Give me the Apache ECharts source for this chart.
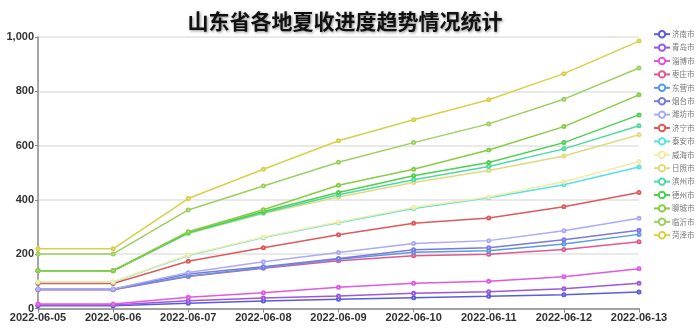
<!DOCTYPE html>
<html><head><meta charset="utf-8">
<script src="https://cdn.jsdelivr.net/npm/echarts@6/dist/echarts.min.js"></script>
<style>html,body{margin:0;padding:0;background:#fff}#c{width:700px;height:331px}</style>
</head><body><div id="c"></div>
<script>
const dates = ['2022-06-05','2022-06-06','2022-06-07','2022-06-08','2022-06-09','2022-06-10','2022-06-11','2022-06-12','2022-06-13'];
const cities = ['济南市','青岛市','淄博市','枣庄市','东营市','烟台市','潍坊市','济宁市','泰安市','威海市','日照市','滨州市','德州市','聊城市','临沂市','菏泽市'];
const jinan    = [10,10,19,28,34,40,45,51,61];
const qingdao  = [13,13,29,39,46,56,62,73,93];
const zibo     = [17,17,41,58,78,93,100,117,146];
const zaozhuang= [69,69,118,148,176,194,200,217,246];
const dongying = [70,70,120,150,181,207,213,238,273];
const yantai   = [71,71,127,154,184,216,224,253,288];
const weifang  = [72,72,133,172,206,239,250,286,332];
const jining   = [92,92,174,224,272,314,333,375,427];
const taian    = [97,97,195,261,316,368,408,456,521];
const weihai   = [98,98,197,263,319,372,411,467,541];
const rizhao   = [139,139,276,350,411,464,508,562,640];
const binzhou  = [139,139,278,353,419,474,523,588,673];
const dezhou   = [139,139,280,357,427,489,538,611,713];
const liaocheng= [139,139,283,364,454,513,584,670,787];
const linyi    = [201,201,363,451,539,611,680,771,886];
const heze     = [220,220,405,513,618,695,769,865,985];
const values = [jinan,qingdao,zibo,zaozhuang,dongying,yantai,weifang,jining,taian,weihai,rizhao,binzhou,dezhou,liaocheng,linyi,heze];
const colors = ['#5b5be0','#9b59e0','#e059e0','#e0598f','#599be0','#7a7ae0','#ababf5','#e05959','#59e0e0','#f0eca8','#e0db80','#4fd9a6','#4fd04f','#88cc44','#9bd060','#d9d04a'];

const chart = echarts.init(document.getElementById('c'));
chart.setOption({
  animation:false,
  color: colors,
  title:{
    text:'山东省各地夏收进度趋势情况统计',
    left:340, top:6, textAlign:'center',
    textStyle:{fontSize:21,fontWeight:'bold',color:'#111',fontFamily:'Noto Sans CJK SC',
      textShadowColor:'rgba(0,0,0,0.45)',textShadowBlur:3,textShadowOffsetX:1,textShadowOffsetY:1}
  },
  legend:{
    orient:'vertical', left:648, top:25, itemGap:5, itemWidth:16, itemHeight:8,
    data:cities,
    textStyle:{fontSize:7.5,color:'#777',fontFamily:'Noto Sans CJK SC',padding:[0,0,0,-3]}
  },
  grid:{left:38, right:61, top:37, bottom:22.5, containLabel:false},
  xAxis:{
    type:'category', data:dates, boundaryGap:false,
    axisLine:{lineStyle:{color:'#888',width:1.5}},
    axisTick:{show:true,alignWithLabel:true,length:4,lineStyle:{color:'#888'}},
    axisLabel:{interval:0,color:'#333',fontSize:11,fontWeight:'bold',fontFamily:'Liberation Sans',margin:4}
  },
  yAxis:{
    type:'value', min:0, max:1000, interval:200,
    axisLine:{show:true,lineStyle:{color:'#888',width:1.5}},
    axisTick:{show:true,length:3,lineStyle:{color:'#888'}},
    axisLabel:{color:'#333',fontSize:11,fontWeight:'bold',fontFamily:'Liberation Sans',margin:4},
    splitLine:{lineStyle:{color:'#e2e2e2',width:1.5}}
  },
  series: cities.map((c,i)=>({
    name:c, type:'line', data:values[i],
    symbol:'emptyCircle', symbolSize:3, showSymbol:true,
    lineStyle:{width:1.5}, itemStyle:{borderWidth:1}
  }))
});
</script></body></html>
